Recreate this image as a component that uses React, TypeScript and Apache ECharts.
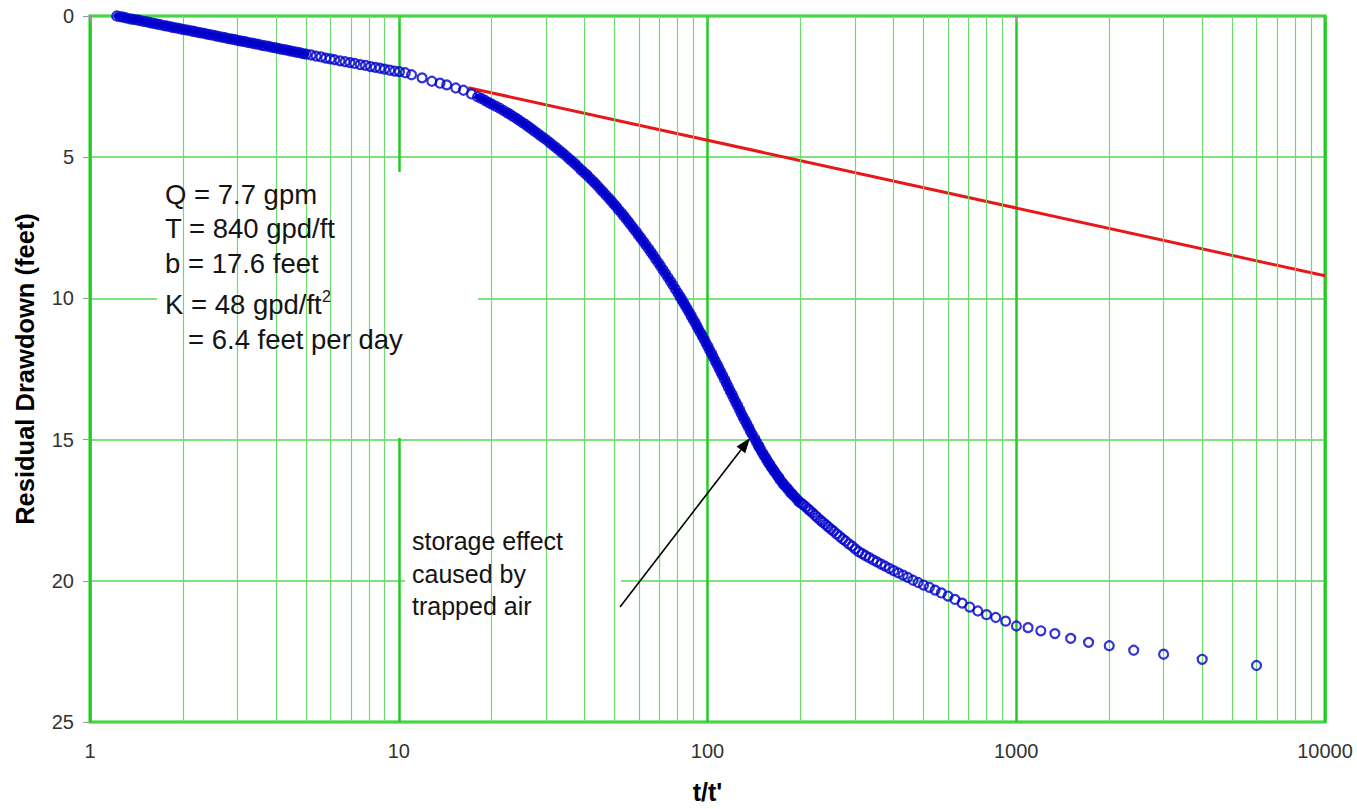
import React, { useEffect, useRef } from "react";
import * as echarts from "echarts";

const FONT = '"Liberation Sans", Arial, Helvetica, sans-serif';

// ---- axis ticks ----
const xTickValues = [1, 10, 100, 1000, 10000];
const yTickValues = [0, 5, 10, 15, 20, 25];
const minorGridValues = [
  2, 3, 4, 5, 6, 7, 8, 9,
  20, 30, 40, 50, 60, 70, 80, 90,
  200, 300, 400, 500, 600, 700, 800, 900,
  2000, 3000, 4000, 5000, 6000, 7000, 8000, 9000,
];

// ---- observed recovery data (t/t' vs residual drawdown, feet) ----
const ratioLate = [
  1.22, 1.25, 1.28, 1.31, 1.35, 1.38, 1.42, 1.45, 1.49, 1.53, 1.57, 1.61, 1.65, 1.69, 1.74, 1.78, 1.83, 1.87, 1.92,
  1.97, 2.02, 2.07, 2.13, 2.18, 2.24, 2.29, 2.35, 2.41, 2.47, 2.54, 2.6, 2.67, 2.74, 2.81, 2.88, 2.95, 3.03, 3.1,
  3.18, 3.26, 3.35, 3.43, 3.52, 3.61, 3.7, 3.8, 3.9, 4.0, 4.1, 4.2, 4.31, 4.42, 4.53, 4.65, 4.77, 4.89, 5.02,
];
const drawdownLate = [
  0.0, 0.02, 0.04, 0.07, 0.1, 0.12, 0.14, 0.16, 0.19, 0.21, 0.24, 0.26, 0.29, 0.31, 0.34, 0.36, 0.39, 0.41, 0.43,
  0.46, 0.48, 0.5, 0.53, 0.55, 0.58, 0.6, 0.62, 0.65, 0.67, 0.7, 0.72, 0.75, 0.77, 0.8, 0.82, 0.84, 0.87, 0.89,
  0.91, 0.94, 0.96, 0.99, 1.01, 1.04, 1.06, 1.08, 1.11, 1.13, 1.16, 1.18, 1.2, 1.23, 1.25, 1.28, 1.3, 1.33, 1.35,
];

const ratioMid = [
  5.2, 5.4, 5.6, 5.8, 6.0, 6.2, 6.45, 6.7, 6.95, 7.2, 7.5, 7.8, 8.1, 8.4, 8.7, 9.0, 9.35, 9.7, 10.05,
  10.5, 11.0, 11.9, 12.8, 13.6, 14.3, 15.3, 16.2, 17.2,
];
const drawdownMid = [
  1.38, 1.42, 1.45, 1.49, 1.52, 1.55, 1.59, 1.62, 1.65, 1.68, 1.72, 1.75, 1.79, 1.82, 1.85, 1.88, 1.92, 1.95, 1.97,
  2.01, 2.08, 2.19, 2.31, 2.38, 2.44, 2.55, 2.63, 2.76,
];

const ratioSteep = [
  18.0, 18.5, 19.0, 19.5, 20.0, 20.6, 21.2, 21.8, 22.4,
  22.9, 23.4, 24.0, 24.5, 25.1, 25.7, 26.3, 26.9, 27.5, 28.2, 28.8, 29.5, 30.2, 30.9, 31.6, 32.4, 33.1, 33.9, 34.7,
  35.5, 36.3, 37.2, 38.0, 38.9, 39.7,
  40.6, 41.4, 42.3, 43.2, 44.1, 45.0, 45.9, 46.9, 47.9, 48.8,
  49.7, 50.6, 51.5, 52.5, 53.5, 54.5, 55.5, 56.5, 57.5, 58.6, 59.7, 60.8, 61.9, 63.1,
  64.3, 65.5, 66.7, 67.9, 69.2, 70.5, 71.8, 73.1, 74.5, 75.9, 77.3, 78.7, 80.2, 81.5,
  82.6, 83.8, 84.9, 86.1, 87.3, 88.5, 89.7, 91.0, 92.3, 93.5, 94.8, 96.2, 97.5, 98.9, 100.2, 101.6, 103.0, 104.5,
  105.9, 107.4, 108.9, 110.4, 111.9, 113.5, 115.1, 116.7, 118.3, 120.0, 121.6, 123.3, 125.0, 126.8, 128.5, 130.3,
  132.1, 134.0, 135.8, 137.7, 139.6,
];
const drawdownSteep = [
  2.86, 2.92, 2.99, 3.06, 3.12, 3.19, 3.26, 3.34, 3.42,
  3.48, 3.55, 3.62, 3.69, 3.77, 3.84, 3.92, 4.0, 4.08, 4.16, 4.24, 4.32, 4.4, 4.49, 4.58, 4.67, 4.76, 4.85, 4.94,
  5.04, 5.13, 5.23, 5.33, 5.44, 5.53,
  5.62, 5.72, 5.82, 5.92, 6.02, 6.13, 6.23, 6.34, 6.45, 6.55,
  6.65, 6.75, 6.86, 6.96, 7.07, 7.18, 7.29, 7.4, 7.51, 7.63, 7.75, 7.86, 7.98, 8.1,
  8.23, 8.35, 8.47, 8.6, 8.73, 8.86, 8.99, 9.12, 9.26, 9.4, 9.53, 9.67, 9.81, 9.94,
  10.05, 10.16, 10.27, 10.38, 10.5, 10.61, 10.73, 10.85, 10.97, 11.09, 11.21, 11.33, 11.45, 11.58, 11.7, 11.83,
  11.95, 12.08, 12.21, 12.34, 12.47, 12.6, 12.73, 12.87, 13.0, 13.13, 13.27, 13.4, 13.53, 13.66, 13.79, 13.93,
  14.06, 14.19, 14.32, 14.44, 14.57, 14.7, 14.82,
];

const ratioEarly = [
  142, 144, 146, 147, 149, 151, 153, 155, 157, 159, 161, 163, 165, 168, 170, 172,
  175, 177, 180, 183, 186, 188, 191, 195, 198, 201, 204, 208, 212, 215, 219, 223, 227, 232,
  236, 241, 246, 251, 256, 262, 268, 274, 280, 287, 294, 301, 309, 317, 325, 334, 344, 354, 365, 376, 388, 401,
  415, 430, 445, 463, 481, 501, 523, 546, 572, 601, 633, 668, 707, 751, 801, 858, 924, 1001,
  1092, 1201, 1334, 1501, 1715, 2001, 2401, 3001, 4001, 6001,
];
const drawdownEarly = [
  14.96, 15.08, 15.2, 15.26, 15.37, 15.49, 15.59, 15.68, 15.79, 15.88, 15.98, 16.06, 16.14, 16.26, 16.34, 16.43,
  16.53, 16.6, 16.69, 16.78, 16.88, 16.93, 17.01, 17.12, 17.2, 17.25, 17.3, 17.38, 17.46, 17.52, 17.6, 17.68, 17.76, 17.85,
  17.92, 18.0, 18.09, 18.17, 18.24, 18.34, 18.43, 18.52, 18.59, 18.69, 18.77, 18.87, 18.97, 19.04, 19.11, 19.18, 19.26,
  19.33, 19.41, 19.48, 19.56, 19.64,
  19.72, 19.8, 19.88, 19.98, 20.06, 20.15, 20.23, 20.33, 20.43, 20.54, 20.66, 20.79, 20.93, 21.07, 21.2, 21.3, 21.43, 21.6,
  21.66, 21.77, 21.87, 22.04, 22.18, 22.3, 22.46, 22.6, 22.78, 23.0,
];

// ---- straight-line (Cooper-Jacob) fit ----
const fitRatio = [16.8, 10000];
const fitDrawdown = [2.54, 9.2];

function zip(xs: number[], ys: number[]) {
  const n = Math.min(xs.length, ys.length);
  const out: number[][] = [];
  for (let i = 0; i < n; i++) out.push([xs[i], ys[i]]);
  return out;
}

const observed = [
  ...zip(ratioLate, drawdownLate),
  ...zip(ratioMid, drawdownMid),
  ...zip(ratioSteep, drawdownSteep),
  ...zip(ratioEarly, drawdownEarly),
];
// parts of the record where the logged points overlap into a solid band
const denseLate = zip(ratioLate, drawdownLate);
const denseSteep = [...zip(ratioSteep, drawdownSteep), ...zip(ratioEarly, drawdownEarly).filter((p) => p[0] <= 200)];
const fitLine = zip(fitRatio, fitDrawdown);

const textColor = "#141414";
const blue = "#0000cc";

function buildOption(): any {
  const bigFont = `27.5px ${FONT}`;
  const noteFont = `25px ${FONT}`;
  const txt = (x: number, y: number, text: string, font: string) => ({
    type: "text",
    x,
    y,
    z: 10,
    silent: true,
    style: {
      text,
      font,
      fill: textColor,
      textAlign: "left",
      textVerticalAlign: "middle",
      align: "left",
      verticalAlign: "middle",
    },
  });
  // arrow geometry
  const tail = [620, 607];
  const tip = [750, 438];
  const dx = tip[0] - tail[0];
  const dy = tip[1] - tail[1];
  const len = Math.sqrt(dx * dx + dy * dy);
  const ux = dx / len;
  const uy = dy / len;
  const headLen = 15;
  const headHalf = 5.5;
  const bx = tip[0] - ux * headLen;
  const by = tip[1] - uy * headLen;
  const px = -uy;
  const py = ux;

  const bandSeries = (data: number[][]) => ({
    type: "line",
    data,
    symbol: "none",
    lineStyle: { color: blue, width: 6, cap: "round", join: "round" },
    silent: true,
    z: 5,
  });

  return {
    animation: false,
    backgroundColor: "#ffffff",
    grid: {
      left: 90,
      right: 32,
      top: 16,
      bottom: 84,
      show: true,
      borderColor: "#22cc22",
      borderWidth: 3,
      backgroundColor: "transparent",
    },
    xAxis: {
      type: "log",
      logBase: 10,
      min: xTickValues[0],
      max: xTickValues[xTickValues.length - 1],
      name: "t/t'",
      nameLocation: "middle",
      nameGap: 57,
      nameTextStyle: { fontFamily: FONT, fontSize: 25, fontWeight: "bold", color: "#000" },
      axisLine: { show: false },
      axisTick: { show: true, length: 6, lineStyle: { color: "#9a9a9a", width: 1 } },
      axisLabel: {
        margin: 19,
        fontSize: 20,
        fontFamily: FONT,
        color: "#333",
        showMinLabel: true,
        showMaxLabel: true,
        formatter: (v: number) => String(Math.round(v)),
      },
      splitLine: { show: true, lineStyle: { color: "#22cc22", width: 2.5 } },
    },
    yAxis: {
      type: "value",
      inverse: true,
      min: yTickValues[0],
      max: yTickValues[yTickValues.length - 1],
      interval: 5,
      name: "Residual Drawdown (feet)",
      nameLocation: "middle",
      nameGap: 52,
      nameTextStyle: { fontFamily: FONT, fontSize: 25.5, fontWeight: "bold", color: "#000" },
      axisLine: { show: false },
      axisTick: { show: true, length: 7, lineStyle: { color: "#9a9a9a", width: 1 } },
      axisLabel: { margin: 16, fontSize: 20, fontFamily: FONT, color: "#333" },
      splitLine: { show: true, lineStyle: { color: "#55d955", width: 1.5 } },
    },
    series: [
      {
        type: "line",
        name: "minor grid",
        data: [[1, 0]],
        symbol: "none",
        lineStyle: { width: 0, opacity: 0 },
        silent: true,
        z: 1,
        markLine: {
          silent: true,
          symbol: ["none", "none"],
          label: { show: false },
          emphasis: { disabled: true },
          lineStyle: { color: "#6ddc6d", width: 1.2, type: "solid" },
          data: minorGridValues.map((v) => ({ xAxis: v })),
        },
      },
      {
        type: "line",
        name: "fit",
        data: fitLine,
        symbol: "none",
        lineStyle: { color: "#e81818", width: 3 },
        silent: true,
        z: 4,
      },
      bandSeries(denseLate),
      bandSeries(denseSteep),
      {
        type: "scatter",
        name: "observed",
        data: observed,
        symbol: "circle",
        symbolSize: 9,
        itemStyle: { color: "rgba(0,0,0,0)", borderColor: blue, borderWidth: 2.2 },
        silent: true,
        z: 6,
      },
    ],
    graphic: {
      elements: [
        { type: "rect", z: 2, silent: true, shape: { x: 157, y: 172, width: 321, height: 266 }, style: { fill: "#ffffff" } },
        { type: "rect", z: 2, silent: true, shape: { x: 405, y: 522, width: 216, height: 181 }, style: { fill: "#ffffff" } },
        txt(165, 194, "Q = 7.7 gpm", bigFont),
        txt(165, 228, "T = 840 gpd/ft", bigFont),
        txt(165, 263, "b = 17.6 feet", bigFont),
        txt(165, 304, "K = 48 gpd/ft", bigFont),
        txt(322, 296, "2", `16px ${FONT}`),
        txt(188, 339, "= 6.4 feet per day", bigFont),
        txt(412, 541, "storage effect", noteFont),
        txt(412, 574, "caused by", noteFont),
        txt(412, 606, "trapped air", noteFont),
        {
          type: "line",
          z: 10,
          silent: true,
          shape: { x1: tail[0], y1: tail[1], x2: bx, y2: by },
          style: { stroke: "#000", lineWidth: 1.6 },
        },
        {
          type: "polygon",
          z: 10,
          silent: true,
          shape: {
            points: [
              [tip[0], tip[1]],
              [bx + px * headHalf, by + py * headHalf],
              [bx - px * headHalf, by - py * headHalf],
            ],
          },
          style: { fill: "#000" },
        },
      ],
    },
  };
}

export default function App() {
  const ref = useRef<HTMLDivElement>(null);
  useEffect(() => {
    if (!ref.current) return;
    const chart = echarts.init(ref.current, null, { renderer: "svg" });
    chart.setOption(buildOption());
    return () => chart.dispose();
  }, []);
  return (
    <div
      ref={ref}
      style={{ position: "fixed", left: 0, top: 0, width: 1357, height: 809, background: "#fff" }}
    />
  );
}
